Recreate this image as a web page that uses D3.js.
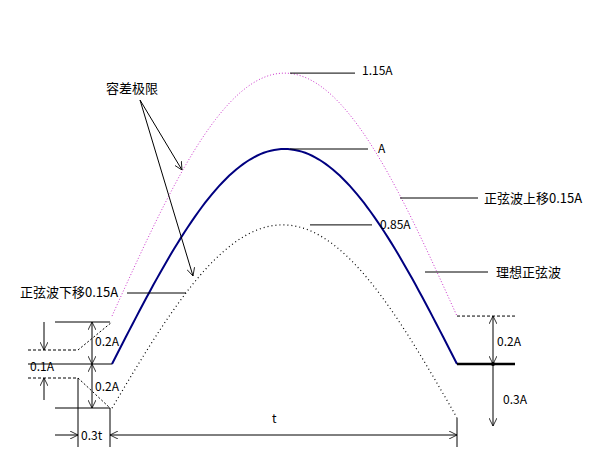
<!DOCTYPE html><html><head><meta charset="utf-8"><script src="https://cdn.jsdelivr.net/npm/d3@7"></script>
<style>body{margin:0;background:#fff}text{font-family:"Noto Sans CJK SC",sans-serif;font-size:12px}</style></head><body><svg id="c" width="597" height="459"></svg>
<script>
// curves: base at t=0, base at t=1, peak value (units of A above ideal baseline)
const curveNames=["上移","理想","下移"];
const curveStart=[0.223,0,-0.205];
const curveEnd=[0.223,0,-0.25];
const curvePeak=[1.353,1,0.647];
const curveStyle=[{c:"#cc33cc",d:"1,2",w:1},{c:"#000080",d:null,w:2},{c:"#000",d:"1,3",w:1.2}];
const peakLabels=["1.15A","A","0.85A"];

const x=d3.scaleLinear().domain([0,1]).range([112,457]);
const y=d3.scaleLinear().domain([0,1]).range([364,149]);
const svg=d3.select("#c");
const ts=d3.range(0,1.0001,0.01);
curveNames.forEach((n,i)=>{
  const pts=ts.map(t=>[t,curveStart[i]+(curveEnd[i]-curveStart[i])*t+(curvePeak[i]-(curveStart[i]+curveEnd[i])/2)*Math.sin(Math.PI*t)]);
  svg.append("path").attr("d",d3.line().x(d=>x(d[0])).y(d=>y(d[1]))(pts)).attr("fill","none")
   .attr("stroke",curveStyle[i].c).attr("stroke-width",curveStyle[i].w).attr("stroke-dasharray",curveStyle[i].d);
});
svg.append("defs").append("marker").attr("id","ar").attr("viewBox","0 0 10 10").attr("refX",10).attr("refY",5)
 .attr("markerWidth",8).attr("markerHeight",8).attr("orient","auto-start-reverse").attr("markerUnits","userSpaceOnUse")
 .append("path").attr("d","M0,0L10,5L0,10").attr("fill","none").attr("stroke","#000");
function L(x1,y1,x2,y2,o={}){const l=svg.append("line").attr("x1",x1).attr("y1",y1).attr("x2",x2).attr("y2",y2).attr("stroke",o.c||"#000").attr("stroke-width",o.w||1);
 if(o.d)l.attr("stroke-dasharray",o.d); if(o.e)l.attr("marker-end","url(#ar)"); if(o.s)l.attr("marker-start","url(#ar)");}
function T(s,x0,y0,sz){svg.append("text").attr("x",x0).attr("y",y0).text(s).style("font-size",(sz||12)+"px");}
// peak leaders
L(290,y(curvePeak[0]),355,y(curvePeak[0])); T(peakLabels[0],362,75);
L(290,y(curvePeak[1]),368,y(curvePeak[1])); T(peakLabels[1],378,153);
L(310,y(curvePeak[2]),372,y(curvePeak[2])); T(peakLabels[2],380,229);
L(400,198,478,198); T("正弦波上移0.15A",484,203,13);
L(425,272,488,272); T("理想正弦波",496,277,13);
L(127,293,186,293); T("正弦波下移0.15A",20,297,13);
T("容差极限",106,93,13);
L(140,100,182,170,{e:1}); L(140,100,193,276,{e:1});
// right
L(457,y(curveStart[0]),515,y(curveStart[0]),{d:"3,2"});
L(457,364,515,364,{w:2.5});
L(493,316,493,364,{e:1,s:1}); L(493,364,493,426,{e:1});
svg.append("circle").attr("cx",493).attr("cy",364).attr("r",2);
T("0.2A",497,346); T("0.3A",503,404);
// left
L(55,322,110,322); L(28,364,112,364); L(55,408,110,408);
L(92,322,92,364,{e:1,s:1}); L(92,364,92,408,{e:1,s:1});
T("0.2A",95,346); T("0.2A",95,391); T("0.1A",30,371);
L(28,350,78,350,{d:"3,2"}); L(78,350,112,322,{d:"2,2"});
L(28,378,78,378,{d:"3,2"}); L(78,378,110,408,{d:"2,2"});
L(44,322,44,350,{e:1}); L(44,400,44,378,{e:1});
L(78,378,78,447); L(110,408,110,447); L(457,418,457,447);
L(55,435,78,435,{e:1}); T("0.3t",81,440);
L(110,435,457,435,{e:1,s:1}); T("t",272,423);
</script></body></html>
